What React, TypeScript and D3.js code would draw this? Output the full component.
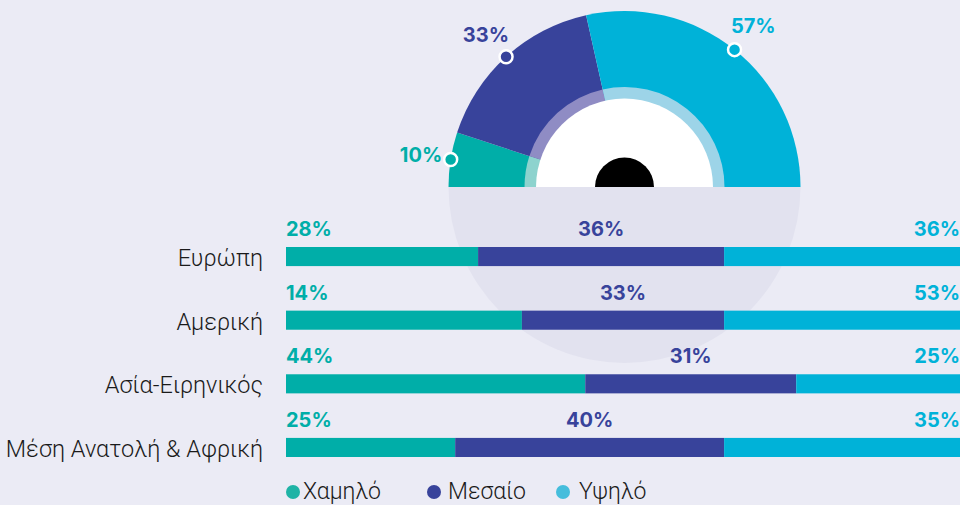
import React from 'react';
import * as d3 from 'd3';

const W = 960;
const H = 505;

const seriesNames = ['Χαμηλό', 'Μεσαίο', 'Υψηλό'];
const seriesColors = ['#00aea8', '#38439b', '#00b2d8'];
const ringColors = ['#8dd3ce', '#8f8cc4', '#9dd4e8'];
const legendColors = ['#1fb3a6', '#38439b', '#45bddc'];

// gauge (overall)
const gaugeValues = [10, 33, 57];

// regions
const regions = ['Ευρώπη', 'Αμερική', 'Ασία-Ειρηνικός', 'Μέση Ανατολή & Αφρική'];
// bar lengths as drawn (the America bar in the source does not follow its labels)
const lowValues = [28.5, 35, 44.4, 25.1];
const midValues = [36.5, 30, 31.3, 39.9];
const highValues = [35, 35, 24.3, 35];
// labels as printed
const lowLabels = ['28%', '14%', '44%', '25%'];
const midLabels = ['36%', '33%', '31%', '40%'];
const highLabels = ['36%', '53%', '25%', '35%'];

const cx = 624.5;
const cy = 187;
const rOuter = 176;
const rRing = 100;
const rWhite = 88.5;
const rCore = 29.5;

const numFont = "Inter, Roboto, sans-serif";
const textFont = "Roboto, 'Noto Sans', sans-serif";

export default function App() {
  const pie = d3
    .pie<number>()
    .sort(null)
    .startAngle(-Math.PI / 2)
    .endAngle(Math.PI / 2);
  const arcs = pie(gaugeValues);

  const outerArc = d3.arc<d3.PieArcDatum<number>>().innerRadius(0).outerRadius(rOuter);
  const ringArc = d3.arc<d3.PieArcDatum<number>>().innerRadius(0).outerRadius(rRing);
  const half = (r: number, s: number, e: number) =>
    d3.arc()({ innerRadius: 0, outerRadius: r, startAngle: s, endAngle: e }) as string;

  const rows = regions.map((r, i) => ({
    region: r,
    low: lowValues[i],
    mid: midValues[i],
    high: highValues[i],
  }));
  const layers = d3.stack<any>().keys(['low', 'mid', 'high'])(rows);

  const x = d3.scaleLinear().domain([0, 100]).range([286, 960]);
  const y = d3.scaleBand().domain(regions).range([247, 457]).paddingInner(0.7);
  const bh = y.bandwidth();

  const labelSets = [lowLabels, midLabels, highLabels];

  return (
    <svg
      width={W}
      height={H}
      style={{ position: 'absolute', left: 0, top: 0, background: '#ebebf5' }}
    >
      <rect width={W} height={H} fill="#ebebf5" />
      <g transform={`translate(${cx},${cy})`}>
        {/* lower half disc */}
        <path d={half(rOuter, Math.PI / 2, (3 * Math.PI) / 2)} fill="#e2e2ef" />
        {arcs.map((a, i) => (
          <path key={'o' + i} d={outerArc(a) as string} fill={seriesColors[i]} />
        ))}
        {arcs.map((a, i) => (
          <path key={'r' + i} d={ringArc(a) as string} fill={ringColors[i]} />
        ))}
        <path d={half(rWhite, -Math.PI / 2, Math.PI / 2)} fill="#ffffff" />
        <path d={half(rCore, -Math.PI / 2, Math.PI / 2)} fill="#000000" />
        {arcs.map((a, i) => {
          const ang = (a.startAngle + a.endAngle) / 2;
          const dx = Math.sin(ang);
          const dy = -Math.cos(ang);
          return (
            <g key={'d' + i}>
              <circle
                cx={dx * rOuter}
                cy={dy * rOuter}
                r={6.5}
                fill={seriesColors[i]}
                stroke="#ffffff"
                strokeWidth={2.5}
              />
              <text
                x={dx * 206}
                y={dy * 206}
                textAnchor="middle"
                dominantBaseline="central"
                fontFamily={numFont}
                fontSize={20}
                fontWeight={700}
                fill={seriesColors[i]}
              >
                {gaugeValues[i]}%
              </text>
            </g>
          );
        })}
      </g>

      {/* bars */}
      {layers.map((layer, k) => (
        <g key={layer.key} fill={seriesColors[k]}>
          {layer.map((d, i) => (
            <rect
              key={i}
              x={x(d[0])}
              y={y(regions[i])}
              width={x(d[1]) - x(d[0])}
              height={bh}
            />
          ))}
        </g>
      ))}

      {/* value labels */}
      {layers.map((layer, k) => (
        <g
          key={'l' + layer.key}
          fill={seriesColors[k]}
          fontFamily={numFont}
          fontSize={20}
          fontWeight={700}
        >
          {layer.map((d, i) => {
            const yy = (y(regions[i]) as number) - 11;
            const anchor = k === 0 ? 'start' : k === 1 ? 'middle' : 'end';
            const xx = k === 0 ? x(d[0]) : k === 1 ? (x(d[0]) + x(d[1])) / 2 : x(d[1]);
            return (
              <text key={i} x={xx} y={yy} textAnchor={anchor}>
                {labelSets[k][i]}
              </text>
            );
          })}
        </g>
      ))}

      {/* region labels */}
      {regions.map((r) => (
        <text
          key={r}
          x={263}
          y={(y(r) as number) + bh}
          textAnchor="end"
          fontFamily={textFont}
          fontSize={23.5}
          fontWeight={300}
          fill="#1a1a1a"
        >
          {r}
        </text>
      ))}

      {/* legend */}
      {seriesNames.map((s, i) => {
        const lx = [293, 434, 563][i];
        const tx = [303, 448, 579][i];
        return (
          <g key={s}>
            <circle cx={lx} cy={492} r={7} fill={legendColors[i]} />
            <text
              x={tx}
              y={499}
              fontFamily={textFont}
              fontSize={23}
              fontWeight={300}
              fill="#1a1a1a"
            >
              {s}
            </text>
          </g>
        );
      })}
    </svg>
  );
}
